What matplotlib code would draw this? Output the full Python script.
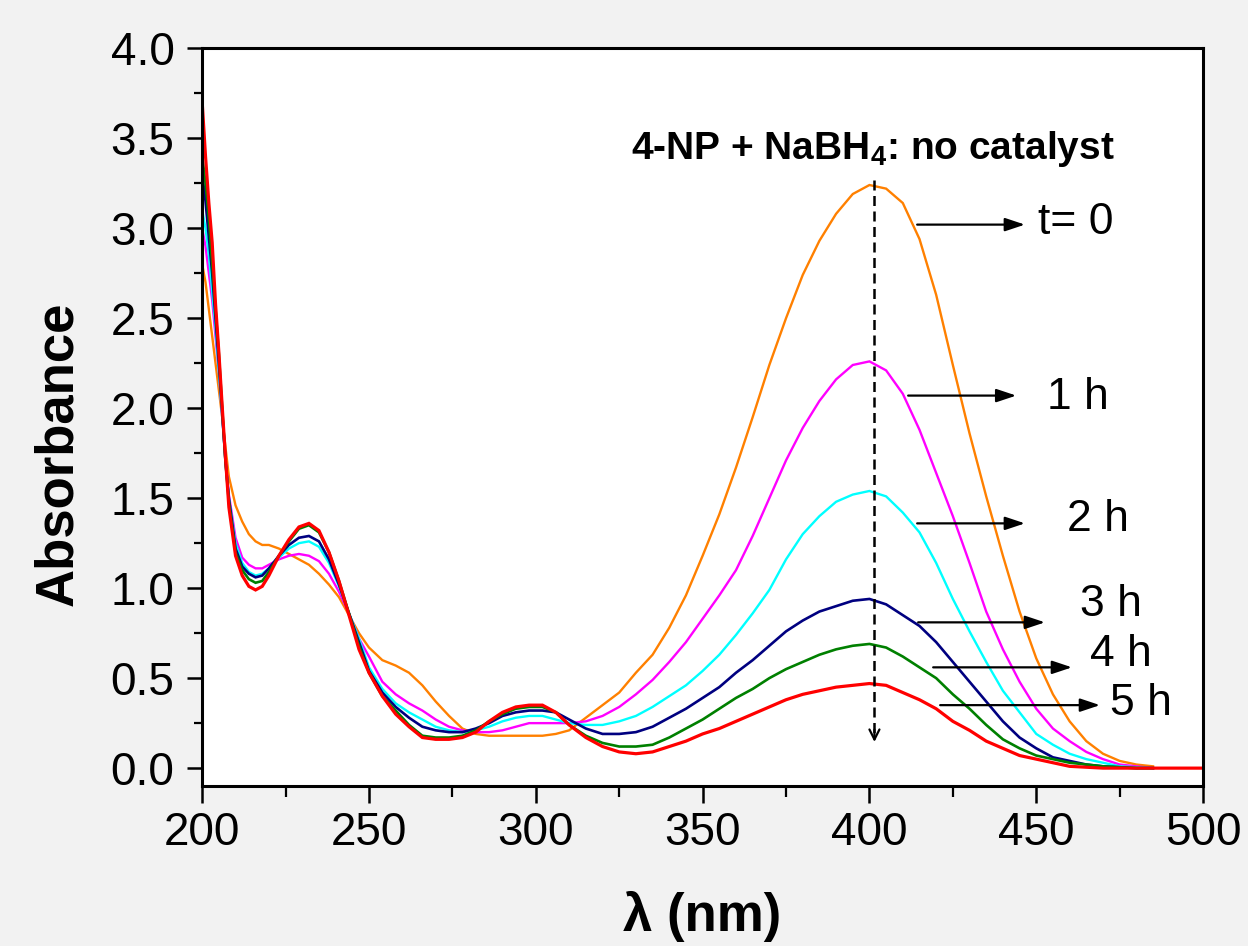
import matplotlib
matplotlib.use("Agg")
import numpy as np
import matplotlib.pyplot as plt
from matplotlib.ticker import MultipleLocator, FormatStrFormatter

plt.rcParams["font.family"] = ["Liberation Sans", "DejaVu Sans"]
plt.rcParams["mathtext.fontset"] = "custom"
plt.rcParams["mathtext.rm"] = "Liberation Sans"
plt.rcParams["mathtext.bf"] = "Liberation Sans:bold"

# wavelength grid (nm)
wavelength = [200, 201, 202, 203, 204, 205, 206, 207, 208,
              210, 212, 214, 216, 218, 220,
              223, 226, 229, 232, 235, 238, 241, 244, 247, 250,
              254, 258, 262, 266, 270, 274, 278, 282, 286, 290, 294, 298, 302, 306,
              310, 315, 320, 325, 330, 335, 340, 345, 350, 355,
              360, 365, 370, 375, 380, 385, 390, 395, 400, 405,
              410, 415, 420, 425, 430, 435, 440, 445, 450, 455,
              460, 465, 470, 475, 480, 485,
              490, 495, 500]

nan = float("nan")

abs_t0 = [2.80, 2.70, 2.55, 2.40, 2.25, 2.10, 1.95, 1.78, 1.62,
          1.46, 1.37, 1.30, 1.26, 1.24, 1.24,
          1.22, 1.19, 1.16, 1.13, 1.08, 1.02, 0.95, 0.85, 0.75, 0.67,
          0.60, 0.57, 0.53, 0.46, 0.37, 0.29, 0.22, 0.19, 0.18, 0.18, 0.18, 0.18, 0.18, 0.19,
          0.21, 0.28, 0.35, 0.42, 0.53, 0.63, 0.78, 0.96, 1.18, 1.41,
          1.67, 1.95, 2.24, 2.50, 2.74, 2.93, 3.08, 3.19, 3.24, 3.22,
          3.14, 2.94, 2.63, 2.24, 1.86, 1.51, 1.18, 0.87, 0.61, 0.41,
          0.26, 0.15, 0.08, 0.04, 0.02, 0.01,
          nan, nan, nan]

abs_1h = [3.00, 2.90, 2.75, 2.60, 2.40, 2.20, 1.95, 1.72, 1.52,
          1.28, 1.17, 1.13, 1.11, 1.11, 1.13,
          1.16, 1.18, 1.19, 1.18, 1.15, 1.08, 0.98, 0.86, 0.72, 0.62,
          0.48, 0.41, 0.36, 0.32, 0.27, 0.23, 0.21, 0.20, 0.20, 0.21, 0.23, 0.25, 0.25, 0.25,
          0.25, 0.26, 0.29, 0.34, 0.41, 0.49, 0.59, 0.70, 0.83, 0.96,
          1.10, 1.29, 1.50, 1.71, 1.89, 2.04, 2.16, 2.24, 2.26, 2.21,
          2.08, 1.88, 1.64, 1.40, 1.14, 0.87, 0.66, 0.48, 0.33, 0.22,
          0.15, 0.09, 0.05, 0.02, 0.01, 0.0,
          nan, nan, nan]

abs_2h = [3.10, 3.00, 2.85, 2.65, 2.45, 2.20, 1.95, 1.70, 1.50,
          1.25, 1.14, 1.09, 1.07, 1.08, 1.11,
          1.17, 1.22, 1.25, 1.26, 1.23, 1.14, 1.01, 0.86, 0.72, 0.56,
          0.44, 0.36, 0.31, 0.27, 0.23, 0.21, 0.20, 0.21, 0.23, 0.26, 0.28, 0.29, 0.29, 0.27,
          0.25, 0.24, 0.24, 0.26, 0.29, 0.34, 0.40, 0.46, 0.54, 0.63,
          0.74, 0.86, 0.99, 1.16, 1.30, 1.40, 1.48, 1.52, 1.54, 1.51,
          1.42, 1.31, 1.14, 0.94, 0.76, 0.59, 0.43, 0.31, 0.19, 0.13,
          0.08, 0.05, 0.03, 0.01, 0.005, 0.0,
          nan, nan, nan]

abs_3h = [3.30, 3.15, 2.95, 2.75, 2.50, 2.25, 1.98, 1.70, 1.50,
          1.22, 1.12, 1.08, 1.06, 1.07, 1.11,
          1.18, 1.24, 1.28, 1.29, 1.26, 1.16, 1.02, 0.86, 0.70, 0.54,
          0.42, 0.34, 0.28, 0.23, 0.21, 0.20, 0.20, 0.22, 0.25, 0.29, 0.31, 0.32, 0.32, 0.31,
          0.27, 0.22, 0.19, 0.19, 0.20, 0.23, 0.28, 0.33, 0.39, 0.45,
          0.53, 0.60, 0.68, 0.76, 0.82, 0.87, 0.90, 0.93, 0.94, 0.91,
          0.85, 0.79, 0.70, 0.59, 0.48, 0.37, 0.26, 0.17, 0.11, 0.06,
          0.04, 0.02, 0.01, 0.005, 0.0, 0.0,
          nan, nan, nan]

abs_4h = [3.40, 3.25, 3.05, 2.80, 2.55, 2.30, 2.00, 1.70, 1.48,
          1.20, 1.10, 1.05, 1.03, 1.04, 1.09,
          1.18, 1.26, 1.33, 1.35, 1.31, 1.20, 1.04, 0.86, 0.68, 0.53,
          0.40, 0.32, 0.24, 0.18, 0.17, 0.17, 0.18, 0.21, 0.26, 0.30, 0.33, 0.34, 0.34, 0.31,
          0.24, 0.18, 0.14, 0.12, 0.12, 0.13, 0.17, 0.22, 0.27, 0.33,
          0.39, 0.44, 0.50, 0.55, 0.59, 0.63, 0.66, 0.68, 0.69, 0.67,
          0.62, 0.56, 0.50, 0.41, 0.33, 0.24, 0.16, 0.11, 0.07, 0.05,
          0.03, 0.02, 0.01, 0.005, 0.0, 0.0,
          nan, nan, nan]

abs_5h = [3.70, 3.40, 3.14, 2.92, 2.58, 2.31, 2.01, 1.72, 1.45,
          1.18, 1.07, 1.01, 0.99, 1.01, 1.07,
          1.18, 1.27, 1.34, 1.36, 1.32, 1.20, 1.04, 0.85, 0.66, 0.53,
          0.40, 0.30, 0.23, 0.17, 0.16, 0.16, 0.17, 0.20, 0.26, 0.31, 0.34, 0.35, 0.35, 0.31,
          0.24, 0.17, 0.12, 0.09, 0.08, 0.09, 0.12, 0.15, 0.19, 0.22,
          0.26, 0.30, 0.34, 0.38, 0.41, 0.43, 0.45, 0.46, 0.47, 0.46,
          0.42, 0.38, 0.33, 0.26, 0.21, 0.15, 0.11, 0.07, 0.05, 0.03,
          0.01, 0.005, 0.0, 0.0, 0.0, 0.0,
          0.0, 0.0, 0.0]

series = [abs_t0, abs_1h, abs_2h, abs_3h, abs_4h, abs_5h]
colors = ["#ff8000", "#ff00ff", "#00ffff", "#000080", "#008000", "#ff0000"]
widths = [1.7, 1.7, 1.7, 1.9, 1.9, 2.3]

labels = ["t= 0", "1 h", "2 h", "3 h", "4 h", "5 h"]
# label anchor (wavelength, absorbance) and arrow start / end wavelength + level
label_x = [450.5, 453.2, 459.2, 463.1, 466.1, 472.1]
label_y = [3.03, 2.06, 1.38, 0.91, 0.63, 0.36]
arrow_x0 = [414.3, 411.6, 414.3, 414.6, 419.1, 421.2]
arrow_x1 = [446.6, 444.0, 446.6, 452.6, 460.7, 469.1]
arrow_y = [3.02, 2.07, 1.36, 0.81, 0.56, 0.35]

peak_nm = 401.5
peak_top = 3.27
peak_bottom = 0.13


def main():
    fig = plt.figure(figsize=(12.48, 9.46), dpi=100, facecolor="#f2f2f2")
    ax = fig.add_axes([0.162, 0.169, 0.802, 0.780])
    ax.set_facecolor("white")

    for vals, col, lw in zip(series, colors, widths):
        ax.plot(wavelength, vals, color=col, lw=lw, solid_joinstyle="miter")

    # dashed guide through the 400 nm maximum
    ax.plot([peak_nm, peak_nm], [peak_top, peak_bottom + 0.05], color="black",
            lw=1.8, linestyle=(0, (4, 2.2)))
    ax.annotate("", xy=(peak_nm, peak_bottom), xytext=(peak_nm, peak_bottom + 0.1),
                arrowprops=dict(arrowstyle="->", lw=1.6, color="black",
                                mutation_scale=18))

    for i in range(len(labels)):
        ax.annotate("", xy=(arrow_x1[i], arrow_y[i]),
                    xytext=(arrow_x0[i], arrow_y[i]),
                    arrowprops=dict(arrowstyle="-|>,head_length=0.6,head_width=0.2",
                                    lw=1.6, color="black", shrinkA=0, shrinkB=0,
                                    mutation_scale=20))
        ax.text(label_x[i], label_y[i], labels[i], fontsize=32,
                ha="left", va="center")

    ax.text(401, 3.44, r"4-NP + NaBH$_{\mathbf{4}}$: no catalyst", fontsize=28,
            fontweight="bold", ha="center", va="center")

    ax.set_xlim(200, 500)
    ax.set_ylim(-0.1, 4.0)
    ax.xaxis.set_major_locator(MultipleLocator(50))
    ax.xaxis.set_minor_locator(MultipleLocator(25))
    ax.yaxis.set_major_locator(MultipleLocator(0.5))
    ax.yaxis.set_minor_locator(MultipleLocator(0.25))
    ax.yaxis.set_major_formatter(FormatStrFormatter("%.1f"))

    for sp in ax.spines.values():
        sp.set_linewidth(2.2)
    ax.tick_params(axis="x", which="major", direction="out", length=12,
                   width=1.8, labelsize=33, pad=6)
    ax.tick_params(axis="x", which="minor", direction="out", length=8,
                   width=1.6)
    ax.tick_params(axis="y", which="major", direction="out", length=11,
                   width=1.8, labelsize=33, pad=9)
    ax.tick_params(axis="y", which="minor", direction="out", length=6,
                   width=1.6)

    ax.set_xlabel("λ (nm)", fontsize=38, fontweight="bold", labelpad=26)
    ax.set_ylabel("Absorbance", fontsize=38, fontweight="bold", labelpad=20, y=0.45)

    fig.savefig("out.png", dpi=100, facecolor=fig.get_facecolor())


if __name__ == "__main__":
    main()
